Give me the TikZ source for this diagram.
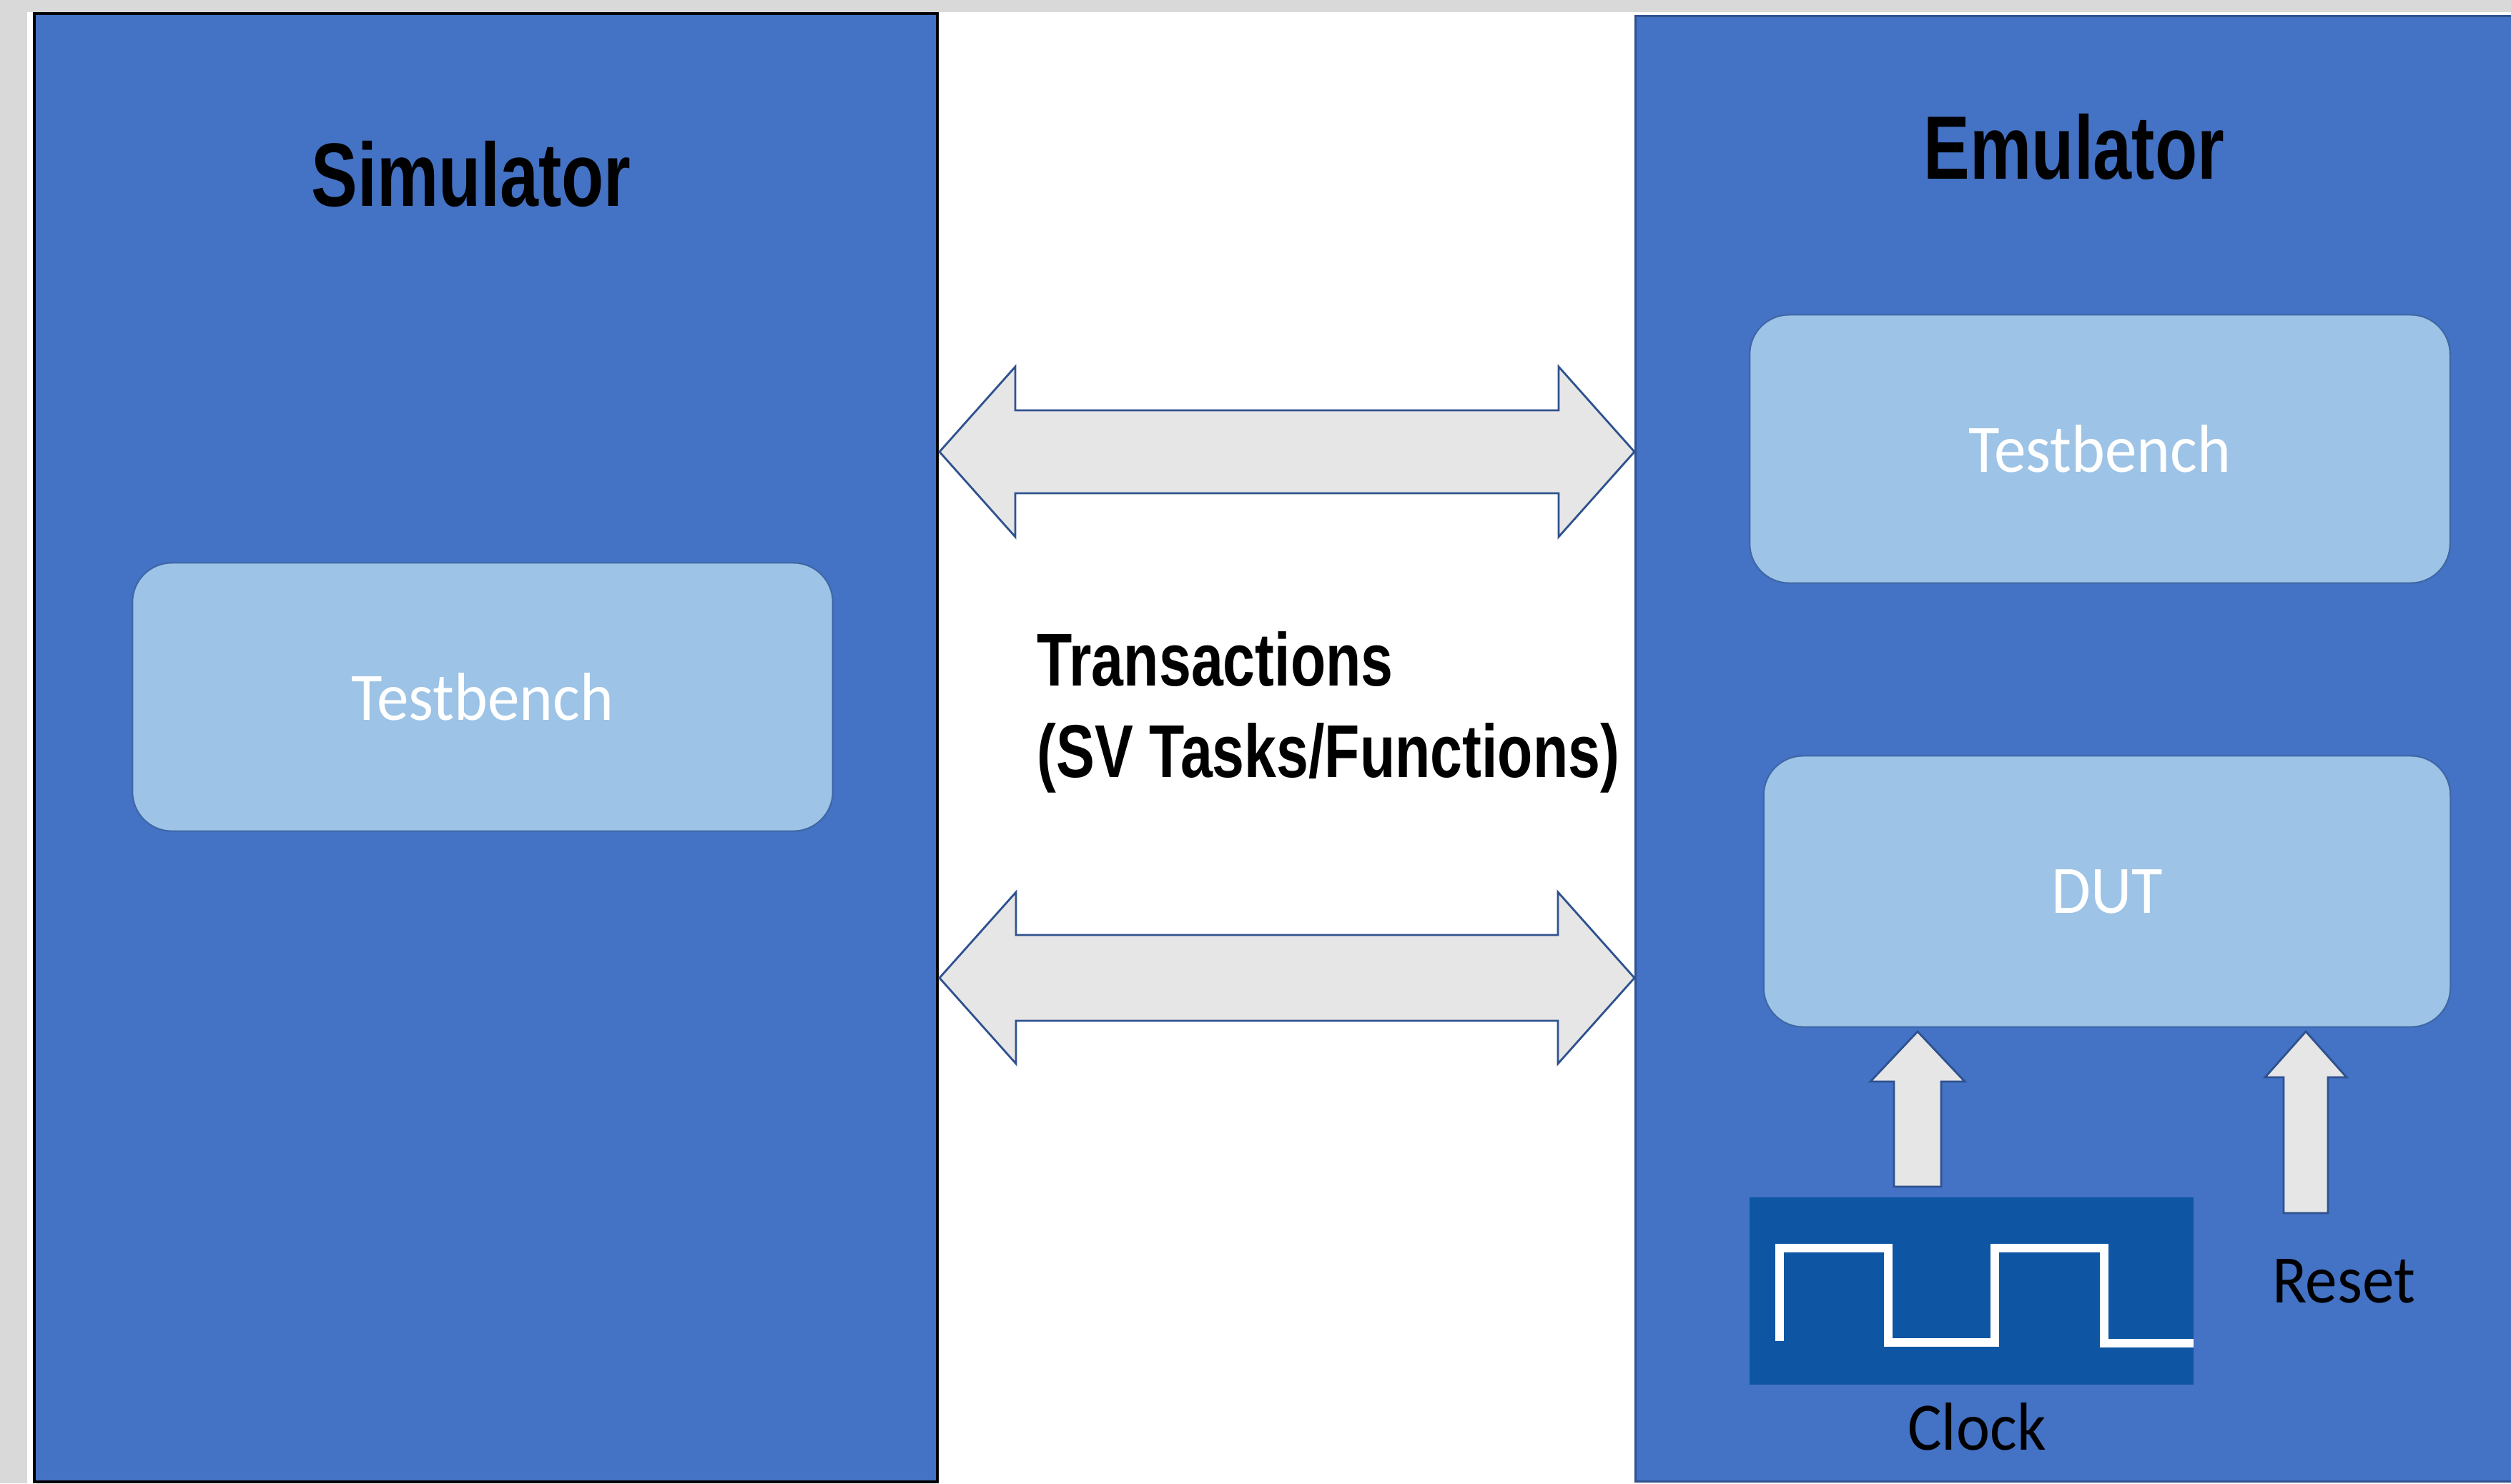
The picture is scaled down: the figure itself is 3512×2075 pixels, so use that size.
\documentclass[tikz,border=0pt]{standalone}
\usepackage{fontspec}
\setmainfont{Carlito}
\newfontfamily\headfont{Liberation Sans}[FakeStretch=0.77]
\newfontfamily\boxfont{Carlito}[FakeStretch=0.94]
\definecolor{mainblue}{HTML}{4472C4}
\definecolor{boxblue}{HTML}{9DC3E6}
\definecolor{boxline}{HTML}{3E67A6}
\definecolor{arrowfill}{HTML}{E7E6E6}
\definecolor{arrowline}{HTML}{2F528F}
\definecolor{clockblue}{HTML}{0E56A4}
\definecolor{framegray}{HTML}{D9D9D9}
\begin{document}
\begin{tikzpicture}[x=0.01cm,y=-0.01cm,
  panel/.style={fill=mainblue, inner sep=0},
  tbbox/.style={fill=boxblue, draw=boxline, line width=0.6pt, rounded corners=0.55cm,
    inner sep=0, text=white, font=\boxfont\fontsize{27}{32}\selectfont},
  headtext/.style={inner sep=0, anchor=base, font=\headfont\bfseries\fontsize{35.8}{43}\selectfont},
  sigtext/.style={inner sep=0, anchor=base, font=\boxfont\fontsize{27}{32}\selectfont},
  blockarrow/.style={fill=arrowfill, draw=arrowline, line width=0.8pt, line join=miter}]
  \useasboundingbox (0,0) rectangle (3512,2075);
  \fill[white] (0,0) rectangle (3512,2075);
  \fill[framegray] (0,0) rectangle (38,2075);
  \fill[framegray] (0,0) rectangle (3512,17);

  % the two sides
  \node[panel, draw=black, line width=1.1pt, minimum width=12.63cm, minimum height=20.52cm] (sim) at (679.5,1046) {};
  \node[panel, draw=arrowline, line width=0.85pt, minimum width=13.12cm, minimum height=20.49cm] (emu) at (2944,1047.5) {};
  \node[headtext] (simtitle) at (659,288) {Simulator};
  \node[headtext] (emutitle) at (2901,250) {Emulator};

  \node[tbbox, minimum width=9.79cm, minimum height=3.75cm] (simtb) at (675,975) {Testbench};
  \node[tbbox, minimum width=9.79cm, minimum height=3.75cm] (emutb) at (2937,628) {Testbench};
  \node[tbbox, minimum width=9.60cm, minimum height=3.79cm] (dut) at (2947,1247) {DUT};

  % transactions between simulator and emulator
  \coordinate (l1) at (1314,632);
  \coordinate (r1) at (2286,632);
  \coordinate (l2) at (1314,1368);
  \coordinate (r2) at (2286,1368);
  \draw[blockarrow] (l1) -- ++(106,-119) -- ++(0,61) -- ++(760,0) -- ++(0,-61) -- (r1)
    -- ++(-106,119) -- ++(0,-61) -- ++(-760,0) -- ++(0,61) -- cycle;
  \draw[blockarrow] (l2) -- ++(107,-120) -- ++(0,60) -- ++(758,0) -- ++(0,-60) -- (r2)
    -- ++(-107,120) -- ++(0,-60) -- ++(-758,0) -- ++(0,60) -- cycle;
  \node[inner sep=0, anchor=base west, align=left, font=\headfont\bfseries\fontsize{29.8}{36.4}\selectfont]
    (trans) at (1450,1087) {Transactions\\(SV Tasks/Functions)};

  % clock and reset inputs of the DUT
  \node[fill=clockblue, inner sep=0, minimum width=6.21cm, minimum height=2.62cm] (clk) at (2757.5,1806) {};
  \draw[white, line width=3.4pt] (2489,1876) -- (2489,1746) -- (2641,1746) -- (2641,1878)
    -- (2790,1878) -- (2790,1746) -- (2943,1746) -- (2943,1879) -- (3068,1879);
  \coordinate (clktip) at (2682,1443);
  \coordinate (rsttip) at (3225,1443);
  \draw[blockarrow] (clktip) -- ++(66,70) -- ++(-33,0) -- ++(0,147) -- ++(-66,0) -- ++(0,-147) -- ++(-33,0) -- cycle;
  \draw[blockarrow] (rsttip) -- ++(57,64) -- ++(-26,0) -- ++(0,190) -- ++(-62,0) -- ++(0,-190) -- ++(-26,0) -- cycle;
  \node[sigtext] (clklabel) at (2765,2028) {Clock};
  \node[sigtext] (rstlabel) at (3278,1822) {Reset};
\end{tikzpicture}
\end{document}
